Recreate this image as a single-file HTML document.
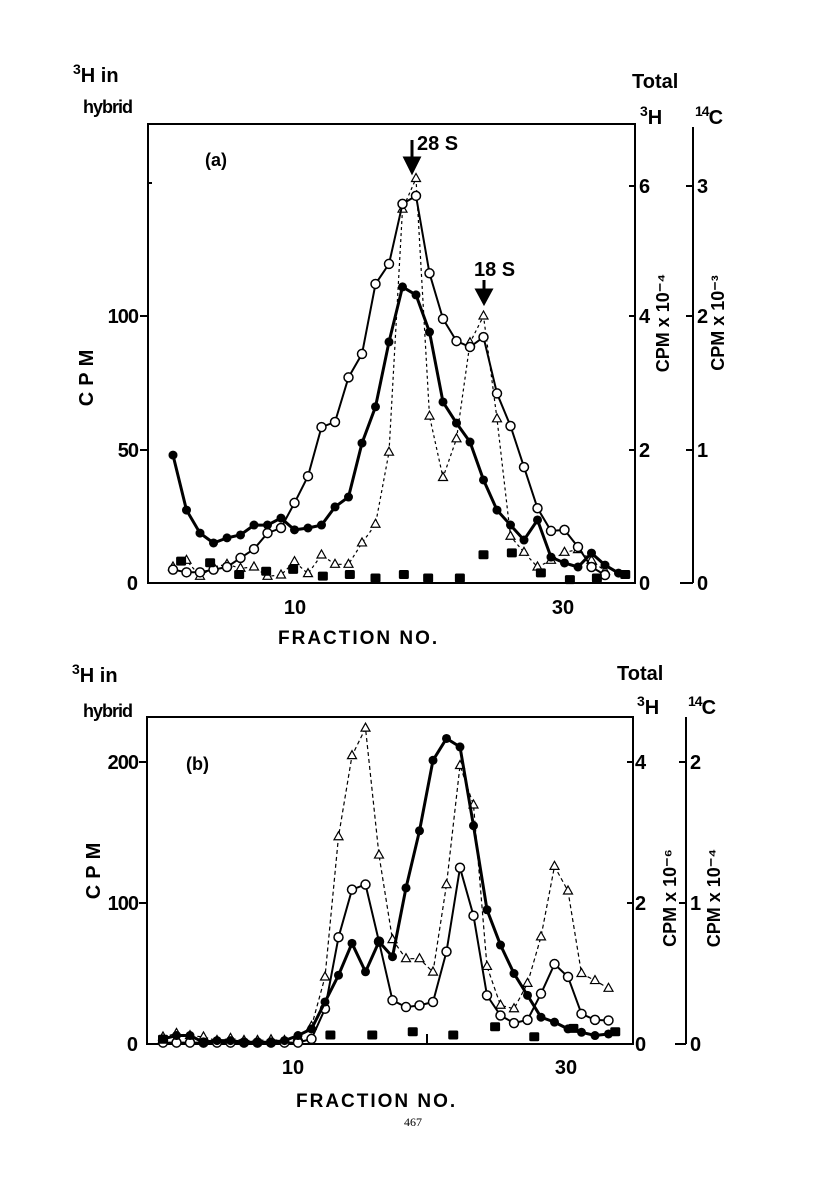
<!DOCTYPE html>
<html><head><meta charset="utf-8"><style>
body{margin:0;background:#fff}
svg{display:block}
text{font-family:"Liberation Sans",sans-serif;font-weight:bold;fill:#000}
</style></head><body>
<svg id="c" width="816" height="1192" viewBox="0 0 816 1192" xmlns="http://www.w3.org/2000/svg">
<!-- Panel A frame & labels -->
<g stroke="#000" fill="none" stroke-width="2">
<rect x="148" y="124" width="487" height="459"/>
<line x1="693" y1="127" x2="693" y2="583"/>
<line x1="140" y1="316" x2="148" y2="316"/><line x1="140" y1="450" x2="148" y2="450"/><line x1="148" y1="183" x2="152" y2="183"/>
<line x1="629" y1="186" x2="635" y2="186"/><line x1="629" y1="316" x2="635" y2="316"/><line x1="629" y1="450" x2="635" y2="450"/>
<line x1="686" y1="186" x2="693" y2="186"/><line x1="686" y1="316" x2="693" y2="316"/><line x1="686" y1="450" x2="693" y2="450"/><line x1="680" y1="583" x2="693" y2="583"/>
</g>
<g font-size="20">
<text x="73" y="82"><tspan font-size="14" dy="-8">3</tspan><tspan dy="8">H in</tspan></text>
<text x="83" y="113" font-size="18" letter-spacing="-1">hybrid</text>
<text x="632" y="88">Total</text>
<text x="640" y="124"><tspan font-size="14" dy="-8">3</tspan><tspan dy="8">H</tspan></text>
<text x="695" y="124"><tspan font-size="14" dy="-8" letter-spacing="-1">14</tspan><tspan dy="8">C</tspan></text>
<text x="205" y="166" font-size="18">(a)</text>
<text x="138" y="323" text-anchor="end" letter-spacing="-1">100</text>
<text x="138" y="457" text-anchor="end" letter-spacing="-1">50</text>
<text x="138" y="590" text-anchor="end">0</text>
<text x="639" y="193">6</text><text x="639" y="323">4</text><text x="639" y="457">2</text><text x="639" y="590">0</text>
<text x="697" y="193">3</text><text x="697" y="323">2</text><text x="697" y="457">1</text><text x="697" y="590">0</text>
<text x="295" y="614" text-anchor="middle">10</text>
<text x="563" y="614" text-anchor="middle">30</text>
<text x="278" y="644" font-size="19" letter-spacing="2">FRACTION  NO.</text>
<text transform="translate(93,375) rotate(-90)" text-anchor="middle" letter-spacing="6">CPM</text>
<text transform="translate(669,323) rotate(-90)" text-anchor="middle" font-size="18">CPM  x  10⁻⁴</text>
<text transform="translate(724,323) rotate(-90)" text-anchor="middle" font-size="18">CPM  x  10⁻³</text>
<text x="417" y="150">28 S</text>
<text x="474" y="276">18 S</text>
</g>
<g stroke="#000" stroke-width="3" fill="#000">
<line x1="412" y1="140" x2="412" y2="162"/><polygon points="405,158 419,158 412,172"/>
<line x1="484" y1="280" x2="484" y2="292"/><polygon points="477,290 491,290 484,303"/>
</g>
<!-- Panel B -->
<g stroke="#000" fill="none" stroke-width="2">
<rect x="147" y="717" width="486" height="327"/>
<line x1="686" y1="717" x2="686" y2="1044"/>
<line x1="139" y1="762" x2="147" y2="762"/><line x1="139" y1="903" x2="147" y2="903"/>
<line x1="627" y1="762" x2="633" y2="762"/><line x1="627" y1="903" x2="633" y2="903"/>
<line x1="679" y1="762" x2="686" y2="762"/><line x1="679" y1="903" x2="686" y2="903"/><line x1="675" y1="1044" x2="686" y2="1044"/>
<line x1="427" y1="1034" x2="427" y2="1044"/>
</g>
<g font-size="20">
<text x="72" y="682"><tspan font-size="14" dy="-8">3</tspan><tspan dy="8">H in</tspan></text>
<text x="83" y="717" font-size="18" letter-spacing="-1">hybrid</text>
<text x="617" y="680">Total</text>
<text x="637" y="714"><tspan font-size="14" dy="-8">3</tspan><tspan dy="8">H</tspan></text>
<text x="688" y="714"><tspan font-size="14" dy="-8" letter-spacing="-1">14</tspan><tspan dy="8">C</tspan></text>
<text x="186" y="770" font-size="18">(b)</text>
<text x="138" y="769" text-anchor="end" letter-spacing="-1">200</text>
<text x="138" y="910" text-anchor="end" letter-spacing="-1">100</text>
<text x="138" y="1051" text-anchor="end">0</text>
<text x="635" y="769">4</text><text x="635" y="910">2</text><text x="635" y="1051">0</text>
<text x="690" y="769">2</text><text x="690" y="910">1</text><text x="690" y="1051">0</text>
<text x="293" y="1074" text-anchor="middle">10</text>
<text x="566" y="1074" text-anchor="middle">30</text>
<text x="296" y="1107" font-size="19" letter-spacing="2">FRACTION  NO.</text>
<text transform="translate(100,868) rotate(-90)" text-anchor="middle" letter-spacing="6">CPM</text>
<text transform="translate(676,898) rotate(-90)" text-anchor="middle" font-size="18">CPM  x  10⁻⁶</text>
<text transform="translate(720,898) rotate(-90)" text-anchor="middle" font-size="18">CPM  x  10⁻⁴</text>
</g>
<text x="413" y="1126" font-size="12" text-anchor="middle" style="font-family:'Liberation Serif',serif;font-weight:normal">467</text>
<g id="marks"></g>
</svg>
<script>
// Panel A data (index = fraction position)
const aFilled=[47.9,27.3,18.7,15,16.9,18,21.7,21.7,24.3,19.9,20.6,21.7,28.5,32.2,52.4,66,90.3,110.9,107.9,94,67.8,59.9,52.8,38.6,27.3,21.7,16.1,23.6,9.7,7.5,6,11.2,6.7,3.7];
const aOpen=[5,4,4,5,6,9.4,12.7,18.7,20.6,30,40,58.4,60.3,77,85.8,112,119.5,142,145,116,98.9,90.6,88.4,92.1,71,58.8,43.4,28,19.5,19.9,13.5,6,3];
const aTri=[0.12,0.17,0.05,0.12,0.14,0.11,0.12,0.05,0.06,0.16,0.07,0.21,0.14,0.14,0.30,0.44,0.98,2.80,3.03,1.25,0.79,1.08,1.80,2.00,1.23,0.35,0.23,0.12,0.17,0.23,0.25,0.17,0.09];
const aSqIdx=[0.6,2.75,4.9,6.9,8.9,11.1,13.1,15,17.1,18.9,21.25,23,25.1,27.25,29.4,31.4,33.5];
const aSqVal=[8,7.4,3,4.2,4.9,2.4,3,1.7,3,1.7,1.7,10.4,11.1,3.6,1.1,1.7,3];
// Panel B data
const bFilled=[3.6,6,6,1.2,2.4,2.4,1.2,1.2,1.2,2.4,6,10.7,29.8,48.8,71.4,51.2,72.6,61.9,110.7,151.2,201.2,216.7,210.7,154.8,95.2,70.2,50,34.5,19,15.5,10.7,8.3,6,7.1];
const bOpen=[1,1,1,1,1,1,1,1,1,1,1,3.6,25,75.7,109.5,113.1,72.6,31,26.2,27.4,29.8,65.5,125,91,34.5,20.2,14.8,17.1,35.7,56.7,47.6,21.4,17.1,16.7];
const bTri=[0.1,0.15,0.12,0.1,0.05,0.08,0.05,0.05,0.06,0.05,0.1,0.25,0.95,2.94,4.09,4.48,2.68,1.48,1.21,1.21,1.02,2.26,3.95,3.39,1.10,0.55,0.50,0.86,1.52,2.52,2.17,1.00,0.90,0.79];
const bSqIdx=[0,12.4,15.5,18.5,21.5,24.6,27.5,30.4,33.5];
const bSqVal=[3,6,6,8.3,6,11.9,4.8,10.7,8.3];

const xA=i=>173+i*13.5, yA=v=>583-v*2.67, yA14=v=>583-v*133.5;
const xB=i=>163+i*13.5, yB=v=>1044-v*1.41, yB3=v=>1044-v*70.5;
const NS='http://www.w3.org/2000/svg', g=document.getElementById('marks');
function mk(tag,attrs){const e=document.createElementNS(NS,tag);for(const k in attrs)e.setAttribute(k,attrs[k]);g.appendChild(e);return e;}
function series(vals,xf,yf,name,width,dash,marker){
  const pts=vals.map((v,i)=>xf(i).toFixed(1)+','+yf(v).toFixed(1)).join(' ');
  const l=mk('polyline',{points:pts,fill:'none',stroke:'#000','stroke-width':width});
  if(dash)l.setAttribute('stroke-dasharray',dash);
  
  
  vals.forEach((v,i)=>{
    const x=xf(i),y=yf(v);let m;
    if(marker==='filled')m=mk('circle',{cx:x,cy:y,r:4.5,fill:'#000'});
    else if(marker==='open')m=mk('circle',{cx:x,cy:y,r:4.5,fill:'#fff',stroke:'#000','stroke-width':1.5});
    else m=mk('polygon',{points:`${x},${y-5} ${x-4.5},${y+3} ${x+4.5},${y+3}`,fill:'#fff',stroke:'#000','stroke-width':1.2});
    
    
  });
}
function squares(idx,vals,xf,yf,name){
  idx.forEach((f,i)=>{const s=mk('rect',{x:xf(f)-5,y:yf(vals[i])-5,width:10,height:9,fill:'#000',rx:1.5});
    
    });
}
series(aTri,xA,yA14,'a-14c-triangle',1.2,'3,3','tri');
series(aOpen,xA,yA,'a-total-3h-open',2,null,'open');
series(aFilled,xA,yA,'a-hybrid-filled',3,null,'filled');
squares(aSqIdx,aSqVal,xA,yA,'a-control-square');
series(bTri,xB,yB3,'b-3h-triangle',1.2,'4,3','tri');
series(bOpen,xB,yB,'b-14c-open',2,null,'open');
series(bFilled,xB,yB,'b-hybrid-filled',3,null,'filled');
squares(bSqIdx,bSqVal,xB,yB,'b-control-square');
</script>
</body></html>
